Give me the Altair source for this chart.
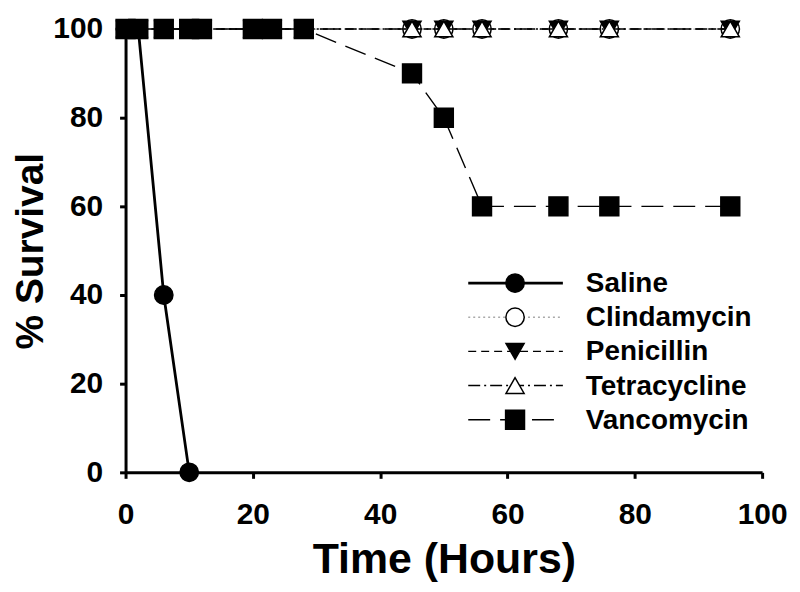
import altair as alt
import pandas as pd

# ---- data ----
series_names = ["Saline", "Clindamycin", "Penicillin", "Tetracycline", "Vancomycin"]

saline_hours = [0, 2, 6, 10]
saline_survival = [100, 100, 40, 0]

treated_hours = [0, 2, 6, 10, 12, 20, 23, 28, 45, 50, 56, 68, 76, 95]
clindamycin_survival = [100, 100, 100, 100, 100, 100, 100, 100, 100, 100, 100, 100, 100, 100]
penicillin_survival = [100, 100, 100, 100, 100, 100, 100, 100, 100, 100, 100, 100, 100, 100]
tetracycline_survival = [100, 100, 100, 100, 100, 100, 100, 100, 100, 100, 100, 100, 100, 100]
vancomycin_survival = [100, 100, 100, 100, 100, 100, 100, 100, 90, 80, 60, 60, 60, 60]

x_ticks = [0, 20, 40, 60, 80, 100]
y_ticks = [0, 20, 40, 60, 80, 100]

series_data = {
    "Saline": (saline_hours, saline_survival),
    "Clindamycin": (treated_hours, clindamycin_survival),
    "Penicillin": (treated_hours, penicillin_survival),
    "Tetracycline": (treated_hours, tetracycline_survival),
    "Vancomycin": (treated_hours, vancomycin_survival),
}

# ---- styles ----
styles = {
    "Saline": dict(shape="circle", fill="black", dash=None, lw=2.8, lc="black", size=340),
    "Clindamycin": dict(shape="circle", fill="white", dash=[2, 3], lw=1.3, lc="#aaaaaa", size=340),
    "Penicillin": dict(shape="triangle-down", fill="black", dash=[8, 5], lw=1.4, lc="black", size=330),
    "Tetracycline": dict(shape="triangle-up", fill="white", dash=[12, 4, 2, 4], lw=1.4, lc="black", size=330),
    "Vancomycin": dict(shape="square", fill="black", dash=[22, 10], lw=1.4, lc="black", size=360),
}

FONT = "Liberation Sans"
W, H = 639, 445

xscale = alt.Scale(domain=[0, 100], nice=False, zero=False)
yscale = alt.Scale(domain=[0, 100], nice=False, zero=False)

layers = []
first = True
for name in series_names:
    hrs, surv = series_data[name]
    df = pd.DataFrame({"hours": hrs, "survival": surv, "series": name})
    st = styles[name]
    if first:
        xenc = alt.X("hours:Q", scale=xscale,
                     axis=alt.Axis(values=x_ticks, title="Time (Hours)", labelPadding=21,
                                   titlePadding=10, format="d", titleFontSize=43))
        yenc = alt.Y("survival:Q", scale=yscale,
                     axis=alt.Axis(values=y_ticks, title="% Survival", labelPadding=17,
                                   titlePadding=2, format="d", titleFontSize=39))
        first = False
    else:
        xenc = alt.X("hours:Q", scale=xscale)
        yenc = alt.Y("survival:Q", scale=yscale)
    line_kw = dict(color=st["lc"], strokeWidth=st["lw"])
    if st["dash"]:
        line_kw["strokeDash"] = st["dash"]
    layers.append(alt.Chart(df).mark_line(**line_kw).encode(x=xenc, y=yenc))
    layers.append(
        alt.Chart(df).mark_point(shape=st["shape"], filled=True, fill=st["fill"], stroke="black",
                                 strokeWidth=1.5, size=st["size"], opacity=1)
        .encode(x=alt.X("hours:Q", scale=xscale), y=alt.Y("survival:Q", scale=yscale))
    )

# ---- manual legend (pixel layout inside plot area) ----
leg_x1, leg_x2, leg_mx, leg_tx = 344, 439, 391, 462
leg_y0, leg_dy = 255, 34.3
for i, name in enumerate(series_names):
    st = styles[name]
    yy = leg_y0 + i * leg_dy
    d = alt.Data(values=[{"label": name}])
    rule_kw = dict(color=st["lc"], strokeWidth=st["lw"])
    if st["dash"]:
        rule_kw["strokeDash"] = st["dash"]
    layers.append(alt.Chart(d).mark_rule(**rule_kw).encode(
        x=alt.value(leg_x1), x2=alt.value(leg_x2), y=alt.value(yy)))
    layers.append(alt.Chart(d).mark_point(shape=st["shape"], filled=True, fill=st["fill"],
                                          stroke="black", strokeWidth=1.5, size=st["size"],
                                          opacity=1)
                  .encode(x=alt.value(leg_mx), y=alt.value(yy)))
    layers.append(alt.Chart(d).mark_text(align="left", baseline="middle", font=FONT,
                                         fontWeight="bold", fontSize=28, color="black", dy=1)
                  .encode(x=alt.value(leg_tx), y=alt.value(yy), text="label:N"))

chart = (
    alt.layer(*layers)
    .properties(width=W, height=H,
                padding={"left": 118, "top": 20, "right": 30, "bottom": 118},
                autosize=alt.AutoSizeParams(type="none"))
    .configure_view(stroke=None)
    .configure_axis(
        grid=False, domainColor="black", domainWidth=3, tickColor="black", tickWidth=3,
        tickSize=6, labelFont=FONT, labelFontWeight="bold", labelFontSize=30,
        labelColor="black", titleFont=FONT, titleFontWeight="bold",
        titleColor="black", labelOverlap=False, labelFlush=False,
    )
)

chart.save("out.html", embed_options={"renderer": "svg", "actions": False})
